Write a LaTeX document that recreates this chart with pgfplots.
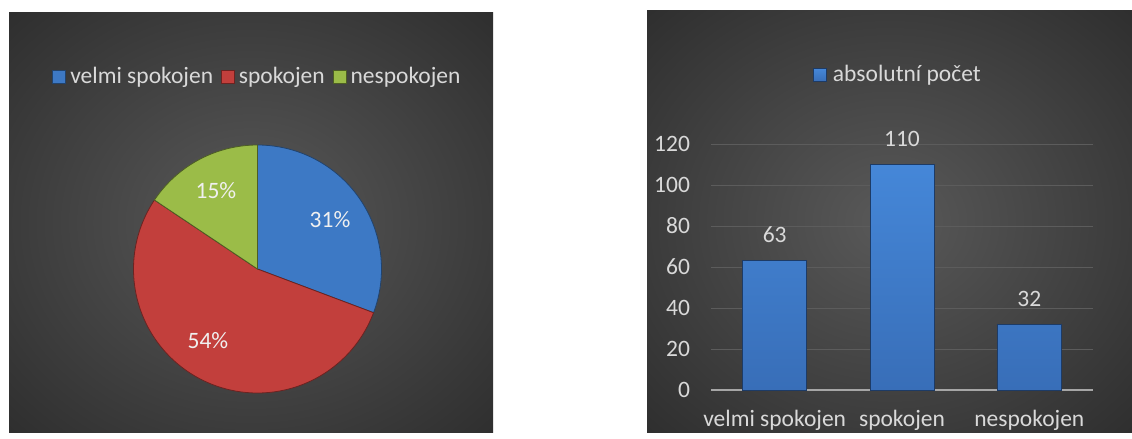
\documentclass[border=0pt]{standalone}
\usepackage{pgfplots}
\pgfplotsset{compat=1.18}
\usepackage{pgfplotstable}
\usepackage{fontspec}
\setmainfont{Carlito}
\definecolor{txt}{HTML}{D9D9D9}
\definecolor{pieblue}{HTML}{3D79C5}
\definecolor{piered}{HTML}{C23F3C}
\definecolor{piegreen}{HTML}{9BBC48}
\definecolor{bgin}{HTML}{595959}
\definecolor{bgout}{HTML}{2E2E2E}
\definecolor{bgcorner}{HTML}{262626}
\definecolor{gridc}{HTML}{5C5C5C}
\definecolor{axisc}{HTML}{A6A6A6}
\definecolor{bartop}{HTML}{4587D8}
\definecolor{barbot}{HTML}{386EB8}
\definecolor{baredge}{HTML}{1D3B66}
\pgfdeclareradialshading{panelbg}{\pgfpoint{0bp}{0bp}}{color(0bp)=(bgin); color(36bp)=(bgout); color(50bp)=(bgcorner)}
\pgfplotsset{/pgf/number format/assume math mode=true}

\pgfplotstableread{
label value
velmi 63
spokojen 110
nespokojen 32
}\piedata

\pgfplotstableread{
x value
0 63
1 110
2 32
}\bardata

\begin{document}%
\fontsize{23.5}{28}\selectfont%
\begin{tikzpicture}
\pgfplotstablegetelem{0}{value}\of\piedata \let\va\pgfplotsretval
\pgfplotstablegetelem{1}{value}\of\piedata \let\vb\pgfplotsretval
\pgfplotstablegetelem{2}{value}\of\piedata \let\vc\pgfplotsretval
\pgfmathsetmacro\tot{\va+\vb+\vc}
\pgfmathsetmacro\aA{90}
\pgfmathsetmacro\aB{90-360*(\va/\tot)}
\pgfmathsetmacro\aC{\aB-360*(\vb/\tot)}
\pgfmathsetmacro\aD{\aC-360*(\vc/\tot)}
\fill[white] (0pt,0pt) rectangle (1132pt,432pt);
\shade[shading=panelbg] (9pt,0pt) rectangle (493pt,419pt);
\shade[shading=panelbg] (647pt,0pt) rectangle (1132pt,421pt);

% ---------- pie ----------
\begin{axis}[at={(133.5pt,39pt)}, anchor=south west,
  width=248pt, height=248pt, scale only axis,
  xmin=-1, xmax=1, ymin=-1, ymax=1, hide axis, clip=false,
  legend columns=3,
  legend style={at={(0.5,1.274)}, anchor=center, draw=none, fill=none,
    text=txt, nodes={inner xsep=2pt, inner ysep=1pt},
    /tikz/every odd column/.append style={column sep=2pt},
    /tikz/every even column/.append style={column sep=6pt}},
  legend image code/.code={\fill[#1] (0pt,-6.5pt) rectangle (13pt,6.5pt);},
  ]
\addplot[fill=pieblue, draw=pieblue!55!black, line width=0.8pt, domain=\aB:\aA, samples=90, variable=\t]
  ({cos(\t)},{sin(\t)}) -- (axis cs:0,0) -- cycle;
\addlegendentry{velmi spokojen}
\addplot[fill=piered, draw=piered!55!black, line width=0.8pt, domain=\aC:\aB, samples=120, variable=\t]
  ({cos(\t)},{sin(\t)}) -- (axis cs:0,0) -- cycle;
\addlegendentry{spokojen}
\addplot[fill=piegreen, draw=piegreen!50!black, line width=0.8pt, domain=\aD:\aC, samples=60, variable=\t]
  ({cos(\t)},{sin(\t)}) -- (axis cs:0,0) -- cycle;
\addlegendentry{nespokojen}
\node[text=white!88!gray] at (axis cs:0.585,0.395) {31\%};
\node[text=white!88!gray] at (axis cs:-0.335,0.63) {15\%};
\node[text=white!88!gray] at (axis cs:-0.40,-0.58) {54\%};
\end{axis}

% ---------- bars ----------
\begin{axis}[at={(711pt,42pt)}, anchor=south west,
  width=382pt, height=246pt, scale only axis,
  ymin=0, ymax=120, ytick={0,20,...,120},
  xmin=-0.5, xmax=2.5, xtick={0,1,2},
  xticklabels={velmi spokojen, spokojen, nespokojen},
  axis x line*=bottom, axis y line*=left,
  y axis line style={draw=none},
  x axis line style={draw=axisc, line width=2pt},
  major tick length=0pt,
  ymajorgrids, grid style={draw=gridc, line width=1pt},
  tick label style={text=txt},
  yticklabel style={xshift=-13pt},
  xticklabel style={text height=17pt, text depth=5pt, yshift=-11pt},
  clip=false,
  legend style={at={(0.4895,1.28)}, anchor=center, draw=none, fill=none,
    text=txt, nodes={inner xsep=2pt, inner ysep=1pt},
    /tikz/every odd column/.append style={column sep=4pt}},
  legend image code/.code={\fill[#1] (0pt,-6.5pt) rectangle (13pt,6.5pt);},
  ]
\addplot[ybar, bar width=64pt, draw=baredge, line width=0.8pt,
  top color=bartop, bottom color=barbot,
  nodes near coords, nodes near coords style={text=txt, yshift=10pt}]
  table[x=x, y=value] {\bardata};
\addlegendentry{absolutní počet}
\end{axis}
\end{tikzpicture}%
\end{document}
